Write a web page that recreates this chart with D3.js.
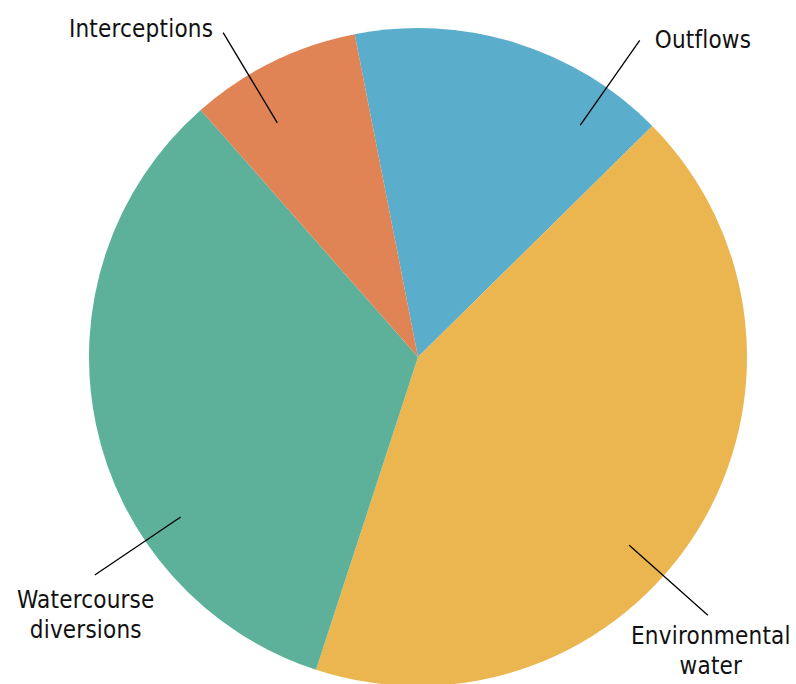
<!DOCTYPE html>
<html>
<head>
<meta charset="utf-8">
<script src="https://cdn.jsdelivr.net/npm/d3@7"></script>
<style>
  body { margin: 0; background: #fff; }
  text { font-family: "DejaVu Sans Condensed", "Liberation Sans Narrow", sans-serif; font-size: 24px; letter-spacing: 0.2px; fill: #111; }
</style>
</head>
<body>
<div id="chart"></div>
<script>
// data (shares in percent)
var categories = ["Outflows", "Environmental water", "Watercourse diversions", "Interceptions"]
var values = [15.7, 42.4, 33.5, 8.4]
var colors = ["#5aadcb", "#ebb64f", "#5db19b", "#e08355"]

// label text lines + leader angles (deg, clockwise from top)
var labelLines = [["Outflows"], ["Environmental", "water"], ["Watercourse", "diversions"], ["Interceptions"]]
var leaderAngle = [35, 131.7, 236, -31]
var leaderInner = [0.86, 0.86, 0.87, 0.83]
var leaderOuter = [1.175, 1.18, 1.185, 1.15]

var svgW = 796, svgH = 684
var cx = 418, cy = 357, radius = 329

var svg = d3.select('#chart').append('svg')
    .attr('width', svgW)
    .attr('height', svgH)
var chart = svg.append('g')
    .attr('transform', `translate(${cx},${cy})`)

var startA = -11.1 * Math.PI / 180
var pie = d3.pie()
    .sort(null)
    .value(d => d)
    .startAngle(startA)
    .endAngle(startA + 2 * Math.PI)
var arc = d3.arc().innerRadius(0).outerRadius(radius)

chart.selectAll('path.slice')
    .data(pie(values))
    .enter().append('path')
    .attr('class', 'slice')
    .attr('d', arc)
    .attr('fill', (d, i) => colors[i])

function polar(angDeg, r) {
    var a = angDeg * Math.PI / 180
    return [Math.sin(a) * r, -Math.cos(a) * r]
}

categories.forEach(function (c, i) {
    var p0 = polar(leaderAngle[i], radius * leaderInner[i])
    var p1 = polar(leaderAngle[i], radius * leaderOuter[i])
    chart.append('line')
        .attr('x1', p0[0]).attr('y1', p0[1])
        .attr('x2', p1[0]).attr('y2', p1[1])
        .attr('stroke', '#000')
        .attr('stroke-width', 1.3)

    var anchor, tx, ty
    if (i == 0) { anchor = 'start'; tx = p1[0] + 15; ty = p1[1] + 8 }
    else if (i == 3) { anchor = 'end'; tx = p1[0] - 10; ty = p1[1] + 4 }
    else if (i == 1) { anchor = 'middle'; tx = p1[0] + 3; ty = p1[1] + 29 }
    else { anchor = 'middle'; tx = p1[0] - 9; ty = p1[1] + 33 }

    var t = chart.append('text')
        .attr('text-anchor', anchor)
        .attr('x', tx).attr('y', ty)
    labelLines[i].forEach(function (s, k) {
        t.append('tspan')
            .attr('x', tx)
            .attr('dy', k == 0 ? 0 : 30)
            .text(s)
    })
})
</script>
</body>
</html>
